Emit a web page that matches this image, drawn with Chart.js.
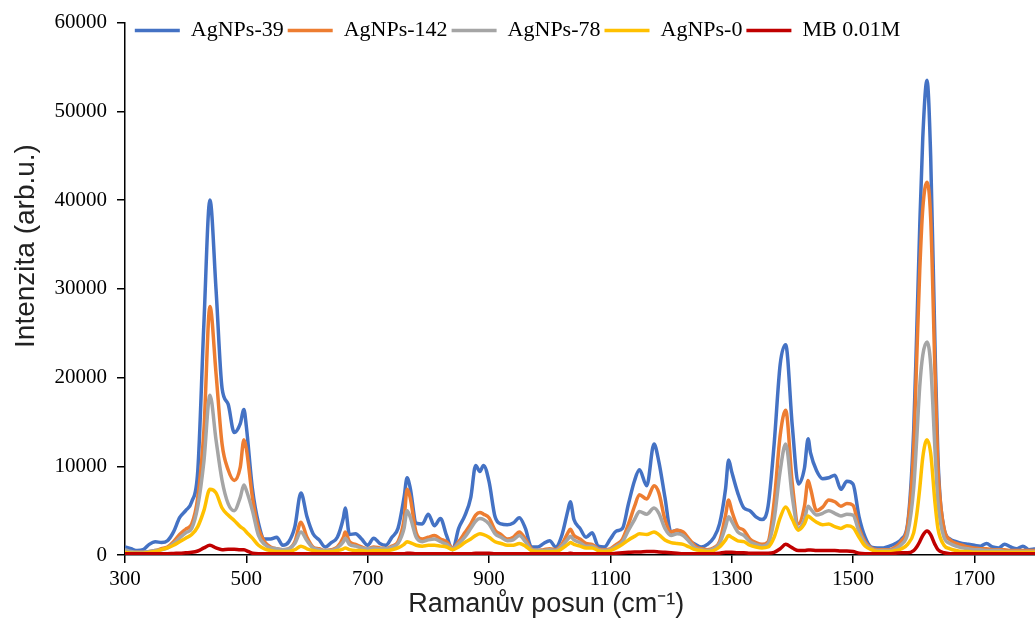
<!DOCTYPE html>
<html>
<head>
<meta charset="utf-8">
<script src="https://cdn.jsdelivr.net/npm/chart.js@4"></script>
<style>
  html, body { margin: 0; padding: 0; background: #fff; }
  #wrap { width: 1035px; height: 618px; }
</style>
</head>
<body>
<div id="wrap"><canvas id="chart"></canvas></div>
<script>
// Raman shift positions (cm-1), one row per ~100 cm-1
const wavenumber = [
  300, 310, 320, 330, 340, 350, 360, 370, 380, 390,
  400, 410, 420, 430, 440, 450, 460, 470, 480, 490, 496,
  500, 510, 520, 530, 540, 550, 560, 570, 580, 590,
  600, 610, 620, 630, 640, 650, 660, 663, 670, 680, 690,
  700, 710, 720, 730, 740, 750, 760, 765, 770, 780, 790,
  800, 810, 820, 830, 840, 850, 860, 870, 878, 885, 891,
  900, 910, 920, 930, 940, 950, 960, 970, 980, 990,
  1000, 1010, 1020, 1030, 1034, 1040, 1050, 1060, 1070, 1080, 1090,
  1100, 1110, 1120, 1130, 1140, 1148, 1160, 1172, 1180, 1190,
  1200, 1210, 1220, 1230, 1240, 1250, 1260, 1270, 1280, 1290, 1295,
  1300, 1310, 1320, 1330, 1340, 1350, 1360, 1370, 1380, 1389,
  1400, 1410, 1420, 1426, 1430, 1440, 1450, 1460, 1470, 1480, 1490,
  1500, 1510, 1520, 1530, 1540, 1550, 1560, 1570, 1580, 1590,
  1600, 1605, 1610, 1615, 1622, 1628, 1635, 1640, 1650,
  1660, 1670, 1680, 1690, 1700, 1710, 1720, 1730, 1740, 1750, 1760, 1770, 1780, 1790, 1800
];

const agnps39 = [
  900, 700, 500, 600, 1200, 1500, 1400, 1600, 2600, 4200,
  5000, 6000, 9500, 26000, 40000, 30000, 18800, 17000, 13800, 14800, 16400,
  14500, 7500, 3600, 1800, 1800, 2000, 1100, 1500, 3200, 7000,
  4300, 2400, 1700, 900, 1400, 2000, 4200, 5300, 2300, 2400, 1800,
  1100, 1900, 1300, 1100, 2000, 3000, 6500, 8700, 7600, 3600, 3500,
  4600, 3300, 4100, 2200, 600, 3000, 4400, 6500, 10100, 9400, 10100,
  8300, 4300, 3500, 3400, 3600, 4200, 3000, 900, 900, 1300,
  1600, 900, 2200, 5000, 6000, 4000, 3000, 2000, 2500, 1000, 900,
  1800, 2700, 3000, 5800, 8400, 9600, 7800, 12500, 10500, 6500,
  2600, 2800, 2400, 1600, 1200, 900, 1200, 1900, 3500, 7500, 10700,
  9400, 7000, 5300, 5000, 4300, 4000, 5500, 12500, 21500, 23700,
  14500, 8000, 9800, 13100, 11500, 9500, 8600, 8700, 9000, 7400, 8300,
  8000, 4300, 2000, 900, 800, 800, 1000, 1300, 1800, 3500,
  14000, 25000, 37000, 47000, 53500, 45000, 24000, 11000, 3000,
  1800, 1500, 1300, 1200, 1100, 1000, 1300, 900, 800, 1200, 900, 700, 1000, 600, 700
];

const agnps142 = [
  400, 300, 300, 300, 400, 500, 700, 900, 1500, 2300,
  2900, 3500, 6500, 14000, 28000, 20500, 12500, 9600, 8400, 9900, 13000,
  12000, 6500, 3000, 1500, 900, 700, 600, 700, 1500, 3700,
  2000, 900, 700, 500, 600, 900, 2000, 2600, 1500, 1200, 900,
  700, 900, 800, 700, 1000, 1500, 4000, 7400, 6500, 2500, 1800,
  2000, 2200, 1800, 1500, 800, 1500, 2500, 3500, 4500, 4800, 4600,
  4200, 2800, 2300, 1800, 2000, 2600, 1800, 700, 500, 600,
  700, 600, 1200, 2500, 2900, 2200, 1800, 1300, 1200, 700, 600,
  700, 1200, 1800, 3500, 5500, 6800, 6300, 7800, 7000, 4000,
  2600, 2800, 2600, 1800, 1000, 700, 600, 800, 1500, 4500, 6200,
  5000, 3200, 2800, 1800, 1400, 1200, 1500, 6000, 13500, 16300,
  8000, 3500, 5500, 8400, 7500, 5000, 5400, 6200, 6000, 5500, 5800,
  5600, 3000, 1500, 800, 600, 600, 600, 900, 1600, 3300,
  12000, 22000, 32000, 39000, 42000, 38000, 21000, 10000, 3000,
  1700, 1300, 1100, 900, 800, 700, 700, 600, 600, 600, 500, 500, 500, 500, 500
];

const agnps78 = [
  600, 400, 300, 300, 400, 500, 600, 800, 1300, 1900,
  2500, 3000, 5500, 10500, 18000, 13000, 8400, 5800, 5000, 6500, 7900,
  7300, 5000, 2200, 1200, 800, 700, 600, 700, 1300, 2600,
  1600, 800, 600, 500, 500, 800, 1500, 1900, 1200, 1000, 800,
  700, 800, 700, 700, 900, 1300, 3000, 5000, 4300, 2000, 1500,
  1700, 1800, 1500, 1200, 700, 1300, 2000, 3000, 3800, 4100, 4000,
  3500, 2400, 2000, 1600, 1700, 2200, 1500, 600, 500, 500,
  600, 500, 1000, 1800, 2100, 1700, 1400, 1000, 1000, 600, 500,
  600, 1000, 1500, 2800, 4000, 4900, 4600, 5300, 4700, 3000,
  2200, 2400, 2200, 1500, 800, 600, 500, 700, 1300, 3200, 4300,
  3800, 2600, 2200, 1500, 1200, 1000, 1300, 4000, 9500, 12500,
  6500, 3000, 4000, 5500, 5200, 4500, 4700, 5000, 4700, 4400, 4600,
  4500, 2600, 1300, 700, 500, 500, 500, 700, 1200, 2400,
  7500, 13000, 19000, 22500, 24000, 21500, 12000, 6000, 2000,
  1300, 1000, 800, 700, 600, 600, 500, 500, 500, 400, 400, 400, 400, 400, 400
];

const agnps0 = [
  300, 200, 200, 200, 300, 400, 600, 800, 1100, 1500,
  1900, 2300, 3200, 5000, 7400, 7000, 5300, 4500, 3900, 3200, 2900,
  2600, 1900, 1100, 700, 500, 400, 400, 400, 600, 1000,
  700, 500, 400, 400, 400, 500, 700, 800, 600, 500, 500,
  400, 500, 500, 500, 600, 800, 1200, 1500, 1400, 1100, 1000,
  1100, 1100, 1000, 900, 600, 900, 1400, 1800, 2200, 2400, 2300,
  2000, 1500, 1300, 1100, 1100, 1300, 1000, 500, 400, 400,
  400, 400, 700, 1200, 1400, 1200, 1000, 800, 800, 500, 400,
  500, 800, 1200, 1700, 2100, 2400, 2300, 2600, 2300, 1700,
  1400, 1300, 1200, 900, 600, 500, 400, 500, 900, 1700, 2200,
  2000, 1600, 1500, 1100, 900, 800, 900, 2000, 4200, 5400,
  4000, 2800, 3500, 4400, 4200, 3700, 3400, 3500, 3200, 3000, 3300,
  3100, 2000, 1000, 600, 400, 400, 400, 500, 700, 1200,
  2500, 4500, 7500, 11000, 13000, 11500, 6000, 3000, 1100,
  700, 500, 400, 400, 300, 300, 300, 300, 300, 300, 300, 300, 300, 300, 300
];

const mb001 = [
  150, 150, 150, 150, 150, 150, 150, 150, 180, 200,
  250, 300, 450, 800, 1100, 800, 600, 650, 650, 600, 600,
  500, 200, 150, 150, 150, 150, 150, 150, 150, 150,
  150, 150, 150, 150, 150, 150, 150, 150, 150, 150, 150,
  150, 150, 150, 150, 150, 150, 150, 200, 200, 150, 150,
  150, 150, 150, 150, 150, 150, 150, 150, 200, 200, 200,
  200, 150, 150, 150, 150, 150, 150, 150, 150, 150,
  150, 150, 150, 150, 200, 150, 150, 150, 150, 150, 150,
  150, 200, 250, 300, 350, 350, 400, 400, 350, 300,
  250, 200, 150, 150, 150, 150, 150, 150, 200, 300, 300,
  300, 250, 250, 200, 200, 200, 200, 300, 700, 1200,
  800, 500, 500, 550, 550, 500, 500, 500, 500, 450, 450,
  400, 200, 150, 150, 150, 150, 150, 200, 250, 250,
  500, 900, 1500, 2200, 2700, 2300, 1200, 600, 250,
  150, 150, 150, 150, 150, 150, 150, 150, 150, 150, 150, 150, 150, 150, 150
];

const seriesNames = ['AgNPs-39', 'AgNPs-142', 'AgNPs-78', 'AgNPs-0', 'MB 0.01M'];
const seriesValues = [agnps39, agnps142, agnps78, agnps0, mb001];
const seriesColors = ['#4472C4', '#ED7D31', '#A5A5A5', '#FFC000', '#C00000'];

const xTicks = [300, 500, 700, 900, 1100, 1300, 1500, 1700];
const yTicks = [0, 10000, 20000, 30000, 40000, 50000, 60000];

const toPoints = ys => wavenumber.map((x, i) => ({ x: x, y: ys[i] }));

const serif = 'Liberation Serif, Times New Roman, serif';
const sans = 'Liberation Sans, Arial, sans-serif';

// legend sits on top of the plot area (like the original figure):
// it takes only a few pixels of layout space, then gets its full box back for drawing
const legendInPlot = {
  id: 'legendInPlot',
  beforeLayout(chart) {
    const lg = chart.legend;
    if (lg && !lg._inPlot) {
      const fit = lg.fit;
      lg.fit = function () {
        fit.call(this);
        this.height = 7;
      };
      lg._inPlot = true;
    }
  },
  afterLayout(chart) {
    const lg = chart.legend;
    if (lg) {
      lg.height = 40;
      lg.bottom = lg.top + 40;
    }
  }
};

const ctx = document.getElementById('chart').getContext('2d');
new Chart(ctx, {
  type: 'line',
  data: {
    datasets: seriesNames.map((name, i) => ({
      label: name,
      data: toPoints(seriesValues[i]),
      borderColor: seriesColors[i],
      backgroundColor: seriesColors[i],
      borderWidth: 3.5,
      pointRadius: 0,
      pointHoverRadius: 0,
      cubicInterpolationMode: 'monotone',
      order: seriesNames.length - i
    }))
  },
  options: {
    responsive: true,
    maintainAspectRatio: false,
    animation: false,
    layout: { padding: { top: 14, left: 0, right: 0, bottom: 0 } },
    plugins: {
      tooltip: { enabled: false },
      legend: {
        position: 'top',
        reverse: true,
        labels: {
          usePointStyle: true,
          pointStyle: 'line',
          pointStyleWidth: 45,
          padding: 4,
          color: '#000',
          font: { family: serif, size: 22 }
        }
      }
    },
    scales: {
      x: {
        type: 'linear',
        min: 300,
        max: 1800,
        afterBuildTicks: axis => { axis.ticks = xTicks.map(v => ({ value: v })); },
        afterFit: axis => { axis.height = 63; },
        border: { display: true, color: '#000', width: 1.5 },
        grid: { drawOnChartArea: false, drawTicks: true, tickLength: 8, color: '#000', lineWidth: 1.5 },
        ticks: {
          padding: 4,
          color: '#000',
          maxRotation: 0,
          font: { family: serif, size: 21, lineHeight: 1.15 },
          callback: v => String(v)
        },
        title: {
          display: true,
          text: 'Ramanův posun (cm⁻¹)' + '\u00a0'.repeat(9),
          color: '#222',
          font: { family: sans, size: 27, lineHeight: 1 },
          padding: { top: 0, bottom: 0 }
        }
      },
      y: {
        min: 0,
        max: 60000,
        afterBuildTicks: axis => { axis.ticks = yTicks.map(v => ({ value: v })); },
        afterFit: axis => { axis.width = 125; },
        border: { display: true, color: '#000', width: 1.5 },
        grid: { drawOnChartArea: false, drawTicks: true, tickLength: 8, color: '#000', lineWidth: 1.5 },
        ticks: {
          padding: 10,
          color: '#000',
          font: { family: serif, size: 21 },
          callback: v => String(v)
        },
        title: {
          display: true,
          text: '\u00a0'.repeat(11) + 'Intenzita (arb.u.)',
          color: '#222',
          font: { family: sans, size: 28, lineHeight: 1 },
          padding: { top: 12, bottom: 0 }
        }
      }
    }
  },
  plugins: [legendInPlot]
});
</script>
</body>
</html>
